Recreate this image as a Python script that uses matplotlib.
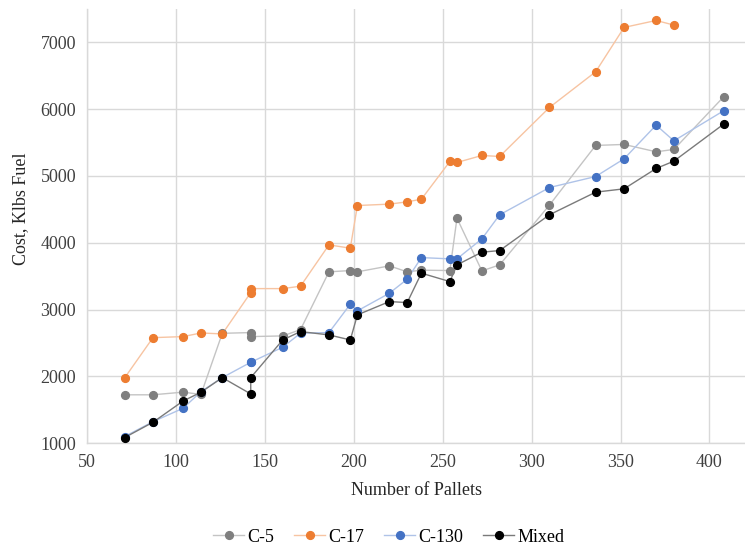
import matplotlib.pyplot as plt
from matplotlib.lines import Line2D

# Pallet counts shared by every aircraft series
pallets = [71, 87, 104, 114, 126, 142, 142, 160, 170, 186, 198, 202, 220, 230,
           238, 254, 258, 272, 282, 310, 336, 352, 370, 380, 408]

c5 = [1725, 1725, 1765, 1730, 2645, 2656, 2596, 2606, 2700, 3565, 3584, 3565,
      3654, 3565, 3590, 3584, 4368, 3579, 3669, 4563, 5456, 5471, 5361, 5396, 6184]

# C-17 has no value at 408 pallets
c17 = [1975, 2580, 2596, 2650, 2636, 3254, 3314, 3314, 3350, 3968, 3919, 4557,
       4578, 4612, 4652, 5216, 5201, 5306, 5291, 6024, 6558, 7222, 7326, 7257]

c130 = [1099, 1323, 1524, 1772, 1982, 2212, 2212, 2437, 2647, 2656, 3081, 2981,
        3245, 3455, 3778, 3759, 3759, 4058, 4418, 4826, 4991, 5256, 5760, 5525, 5975]

mixed = [1084, 1314, 1633, 1763, 1982, 1738, 1982, 2546, 2671, 2621, 2546, 2921,
         3120, 3105, 3545, 3419, 3669, 3859, 3883, 4418, 4757, 4807, 5111, 5221, 5775]

series = [
    ("C-5", c5, "#7F7F7F", "#C4C4C4"),
    ("C-17", c17, "#ED7D31", "#F7C4A2"),
    ("C-130", c130, "#4472C4", "#AFC3E8"),
    ("Mixed", mixed, "#000000", "#7A7A7A"),
]

plt.rcParams["font.family"] = ["Liberation Serif", "DejaVu Serif"]

fig = plt.figure(figsize=(7.45, 5.52), dpi=100)
ax = fig.add_axes([0.117, 0.197, 0.883, 0.787])

handles = []
for name, vals, mcolor, lcolor in series:
    xs = pallets[:len(vals)]
    ax.plot(xs, vals, color=lcolor, linewidth=1.0, zorder=2)
    ax.plot(xs, vals, linestyle="none", marker="o", markersize=5.6,
            color=mcolor, zorder=3)
    handles.append(Line2D([0], [0], color=lcolor, linewidth=1.0, marker="o",
                          markersize=5.6, markerfacecolor=mcolor,
                          markeredgecolor=mcolor, label=name))

ax.set_xlim(50, 420)
ax.set_ylim(1000, 7500)
ax.set_xticks(range(50, 401, 50))
ax.set_yticks(range(1000, 7001, 1000))
ax.grid(True, color="#D9D9D9", linewidth=1.0)
ax.set_axisbelow(True)
for side in ["top", "right"]:
    ax.spines[side].set_visible(False)
for side in ["left", "bottom"]:
    ax.spines[side].set_color("#D9D9D9")
    ax.spines[side].set_linewidth(1.0)
ax.tick_params(length=0, labelsize=13, colors="#404040", pad=8)

ax.set_xlabel("Number of Pallets", fontsize=13, color="#262626", labelpad=8)
ax.set_ylabel("Cost, Klbs Fuel", fontsize=13, color="#262626")
ax.yaxis.set_label_coords(-0.088, 0.54)

fig.legend(handles=handles, loc="center", bbox_to_anchor=(0.522, 0.027),
           ncol=4, frameon=False, fontsize=13, handlelength=1.7,
           handletextpad=0.2, columnspacing=1.1)

fig.savefig("out.png", dpi=100)
